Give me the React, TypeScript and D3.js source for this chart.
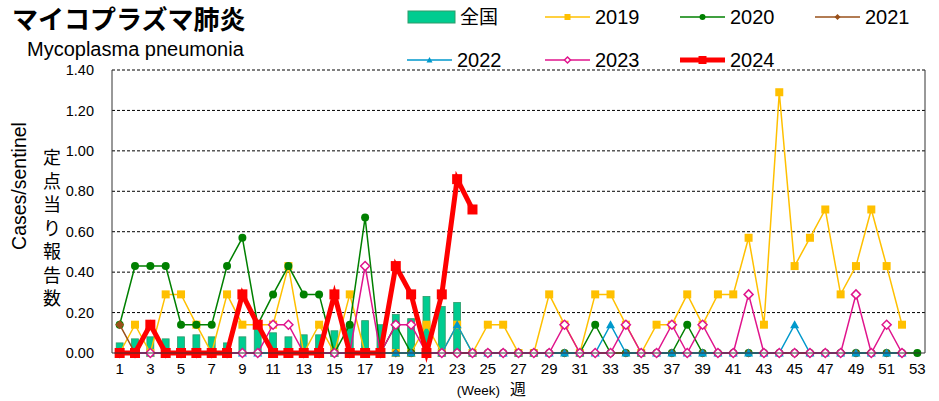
import React from "react";
import { scaleBand, scaleLinear, line, range } from "d3";

// week numbers on the x axis
const weeks = range(1, 54);
const tickWeeks = weeks.filter((w) => w % 2 === 1);
const yTicks = [0, 0.2, 0.4, 0.6, 0.8, 1.0, 1.2, 1.4];

// national (全国) bars
const national = [
  0.05, 0.07, 0.08, 0.07, 0.08, 0.09, 0.08, 0.05, 0.08, 0.12, 0.1, 0.08,
  0.09, 0.09, 0.11, 0.14, 0.16, 0.14, 0.19, 0.17, 0.28, 0.23, 0.25,
];

const y2019 = [
  0, 0.14, 0, 0.29, 0.29, 0.14, 0, 0.29, 0.14, 0.14, 0.14, 0.43, 0, 0.14, 0,
  0.29, 0, 0, 0, 0, 0.14, 0, 0.14, 0, 0.14, 0.14, 0, 0, 0.29, 0.14, 0, 0.29,
  0.29, 0.14, 0, 0.14, 0.14, 0.29, 0.14, 0.29, 0.29, 0.57, 0.14, 1.29, 0.43,
  0.57, 0.71, 0.29, 0.43, 0.71, 0.43, 0.14,
];

const y2020 = [
  0.14, 0.43, 0.43, 0.43, 0.14, 0.14, 0.14, 0.43, 0.57, 0.14, 0.29, 0.43,
  0.29, 0.29, 0, 0.14, 0.67, 0, 0.14, 0, 0, 0, 0, 0, 0, 0, 0, 0, 0, 0, 0,
  0.14, 0, 0, 0, 0, 0, 0.14, 0, 0, 0, 0, 0, 0, 0, 0, 0, 0, 0, 0, 0, 0, 0,
];

const y2021 = [
  0.14, 0, 0, 0, 0, 0, 0, 0, 0, 0, 0, 0, 0, 0, 0, 0, 0, 0, 0, 0, 0, 0, 0, 0,
  0, 0, 0, 0, 0, 0, 0, 0, 0, 0, 0, 0, 0, 0, 0, 0, 0, 0, 0, 0, 0, 0, 0, 0, 0,
  0, 0, 0,
];

const y2022 = [
  0, 0, 0, 0, 0, 0, 0, 0, 0, 0, 0, 0, 0, 0, 0, 0, 0, 0, 0, 0, 0, 0, 0.14, 0,
  0, 0, 0, 0, 0, 0, 0, 0, 0.14, 0, 0, 0, 0, 0, 0, 0, 0, 0, 0, 0, 0.14, 0, 0,
  0, 0, 0, 0, 0,
];

const y2023 = [
  0, 0, 0, 0, 0, 0, 0, 0, 0, 0, 0.14, 0.14, 0, 0, 0, 0, 0.43, 0, 0.14, 0.14,
  0, 0, 0, 0, 0, 0, 0, 0, 0, 0.14, 0, 0, 0, 0.14, 0, 0, 0.14, 0, 0.14, 0, 0,
  0.29, 0, 0, 0, 0, 0, 0, 0.29, 0, 0.14, 0,
];

const y2024 = [
  0, 0, 0.14, 0, 0, 0, 0, 0, 0.29, 0.14, 0, 0, 0, 0, 0.29, 0, 0, 0, 0.43,
  0.29, 0, 0.29, 0.86, 0.71,
];

const series = [
  { name: "2019", values: y2019, color: "#FFC000", marker: "square", width: 1.5, size: 8 },
  { name: "2020", values: y2020, color: "#008000", marker: "circle", width: 1.5, size: 8 },
  { name: "2021", values: y2021, color: "#99501A", marker: "diamond", width: 1.5, size: 9 },
  { name: "2022", values: y2022, color: "#0099CC", marker: "triangle", width: 1.5, size: 9 },
  { name: "2023", values: y2023, color: "#E0148C", marker: "hollow", width: 1.5, size: 9 },
  { name: "2024", values: y2024, color: "#FF0000", marker: "square", width: 5, size: 10 },
];

const FONT = "'Liberation Sans', Arial, sans-serif";
const JP = "'Noto Sans CJK JP', sans-serif";

const Marker = ({ type, x, y, size, color }) => {
  const h = size / 2;
  if (type === "square")
    return <rect x={x - h} y={y - h} width={size} height={size} fill={color} />;
  if (type === "circle") return <circle cx={x} cy={y} r={h} fill={color} />;
  if (type === "diamond")
    return <path d={`M${x},${y - h}L${x + h},${y}L${x},${y + h}L${x - h},${y}Z`} fill={color} />;
  if (type === "triangle")
    return <path d={`M${x},${y - h}L${x + h},${y + h * 0.8}L${x - h},${y + h * 0.8}Z`} fill={color} />;
  return (
    <path
      d={`M${x},${y - h}L${x + h},${y}L${x},${y + h}L${x - h},${y}Z`}
      fill="#fff"
      stroke={color}
      strokeWidth={1.5}
    />
  );
};

export default function App() {
  const margin = { top: 70, right: 14, bottom: 48, left: 112 };
  const width = 939;
  const height = 401;
  const innerWidth = width - margin.left - margin.right;
  const innerHeight = height - margin.top - margin.bottom;

  const xScale = scaleBand().domain(weeks).range([0, innerWidth]);
  const yScale = scaleLinear().domain([0, 1.4]).range([innerHeight, 0]);
  const cx = (w) => xScale(w) + xScale.bandwidth() / 2;
  const barW = xScale.bandwidth() * 0.45;

  const lineGen = line()
    .x((d, i) => cx(i + 1))
    .y((d) => yScale(d));

  const legendRow1 = [
    { s: series[0], x: 545, y: 17 },
    { s: series[1], x: 680, y: 17 },
    { s: series[2], x: 815, y: 17 },
  ];
  const legendRow2 = [
    { s: series[3], x: 407, y: 60 },
    { s: series[4], x: 545, y: 60 },
    { s: series[5], x: 680, y: 60 },
  ];

  return (
    <svg
      width={width}
      height={height}
      style={{ position: "absolute", left: 0, top: 0, background: "#fff" }}
    >
      <text x={12} y={29} fontFamily={JP} fontWeight={700} fontSize={26}>
        マイコプラズマ肺炎
      </text>
      <text x={27} y={56} fontFamily={FONT} fontSize={20}>
        Mycoplasma pneumonia
      </text>

      {/* legend */}
      <rect x={408} y={11} width={47} height={12} fill="#00CC90" stroke="#2E9B6A" strokeWidth={1} />
      <text x={460} y={17} dy="0.35em" fontFamily={JP} fontSize={19}>
        全国
      </text>
      {[...legendRow1, ...legendRow2].map(({ s, x, y }) => (
        <g key={s.name}>
          <line x1={x} x2={x + 45} y1={y} y2={y} stroke={s.color} strokeWidth={s.width} />
          <Marker type={s.marker} x={x + 22.5} y={y} size={s.name === "2024" ? 8 : 6} color={s.color} />
          <text x={x + 50} y={y} dy="0.35em" fontFamily={FONT} fontSize={20}>
            {s.name}
          </text>
        </g>
      ))}

      {/* axis titles */}
      <text
        transform="translate(26,186) rotate(-90)"
        textAnchor="middle"
        fontFamily={FONT}
        fontSize={19.5}
      >
        Cases/sentinel
      </text>
      {"定点当り報告数".split("").map((c, i) => (
        <text
          key={i}
          x={52}
          y={158 + i * 23.5}
          dy="0.35em"
          textAnchor="middle"
          fontFamily={JP}
          fontSize={18}
        >
          {c}
        </text>
      ))}

      <g transform={`translate(${margin.left},${margin.top})`}>
        {yTicks.map((t) => (
          <g key={t}>
            {t > 0 && (
              <line
                x1={0}
                x2={innerWidth}
                y1={yScale(t)}
                y2={yScale(t)}
                stroke="#000"
                strokeWidth={1}
                strokeDasharray="3,2"
              />
            )}
            <text
              x={-18}
              y={yScale(t)}
              dy="0.35em"
              textAnchor="end"
              fontFamily={FONT}
              fontSize={14.5}
            >
              {t.toFixed(2)}
            </text>
          </g>
        ))}

        {national.map((v, i) => (
          <rect
            key={i}
            x={cx(i + 1) - barW / 2}
            y={yScale(v)}
            width={barW}
            height={innerHeight - yScale(v)}
            fill="#00CC90"
            stroke="#2E9B6A"
            strokeWidth={0.8}
          />
        ))}

        {series.map((s) => (
          <g key={s.name}>
            <path d={lineGen(s.values)} fill="none" stroke={s.color} strokeWidth={s.width} strokeLinejoin="miter" />
            {s.values.map((v, i) => (
              <Marker key={i} type={s.marker} x={cx(i + 1)} y={yScale(v)} size={s.size} color={s.color} />
            ))}
          </g>
        ))}

        <line x1={0} x2={0} y1={0} y2={innerHeight} stroke="#333" />
        <line x1={innerWidth} x2={innerWidth} y1={0} y2={innerHeight} stroke="#333" />
        <line x1={0} x2={innerWidth} y1={innerHeight} y2={innerHeight} stroke="#333" />

        {tickWeeks.map((w) => (
          <text
            key={w}
            x={cx(w)}
            y={innerHeight + 21}
            textAnchor="middle"
            fontFamily={FONT}
            fontSize={15}
          >
            {w}
          </text>
        ))}
        <text x={388} y={innerHeight + 42} textAnchor="end" fontFamily={FONT} fontSize={13.5}>
          (Week)
        </text>
        <text x={398} y={innerHeight + 42} fontFamily={JP} fontSize={16}>
          週
        </text>
      </g>
    </svg>
  );
}
